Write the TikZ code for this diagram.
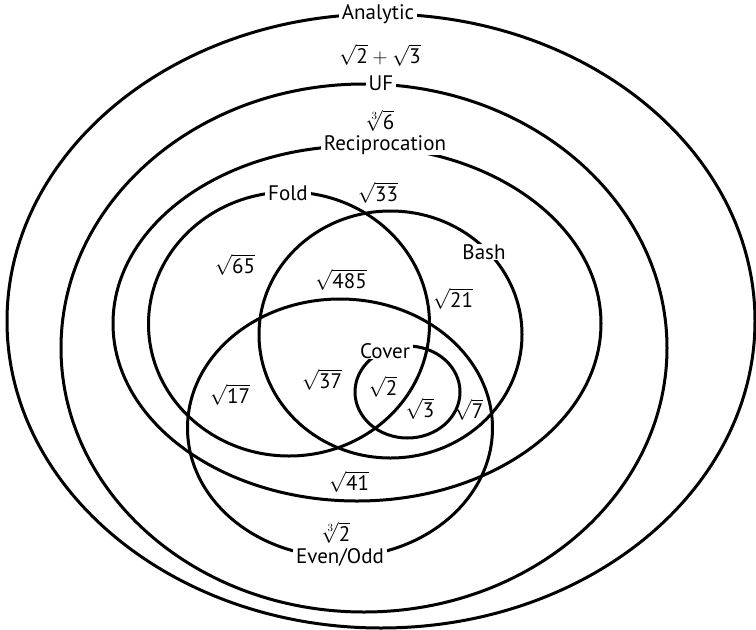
\documentclass[tikz,border=0pt]{standalone}
\usepackage{fontspec}
\setmainfont{PT Sans}
\newcommand{\rt}[1]{$\sqrt{\mbox{#1}}$}
\newcommand{\crt}[1]{$\sqrt[3]{\mbox{#1}}$}
\begin{document}
\begin{tikzpicture}[x=1pt,y=-1pt,
  setline/.style={line width=3pt},
  tag/.style={fill=white, inner xsep=3pt, inner ysep=0pt, font=\fontsize{21}{24}\selectfont},
  val/.style={inner sep=0pt, font=\fontsize{21}{24}\selectfont}]
\useasboundingbox (0,0) rectangle (756,630);

% the seven classes, outermost first
\draw[setline] (381,321) ellipse [x radius=374, y radius=307];     % Analytic
\draw[setline] (364,348) ellipse [x radius=303, y radius=264];     % UF
\draw[setline] (357,323.5) ellipse [x radius=244, y radius=177.5]; % Reciprocation
\draw[setline] (289,324) ellipse [x radius=140.5, y radius=132];   % Fold
\draw[setline] (390.5,334.5) ellipse [x radius=131.5, y radius=123.5]; % Bash
\draw[setline] (340,428) ellipse [x radius=152.5, y radius=129];   % Even/Odd
\draw[setline] (407.5,392) ellipse [x radius=52.5, y radius=46];   % Cover

% class names, set on their outlines
\node[tag] (analytic) at (378,14) {Analytic};
\node[tag] (uf) at (381,83) {UF};
\node[tag] (recip) at (385,145) {Reciprocation};
\node[tag] (fold) at (288,193) {Fold};
\node[tag] (bash) at (484,252) {Bash};
\node[tag] (cover) at (385,351) {Cover};
\node[tag] (evenodd) at (340,557) {Even/Odd};

% example numbers in each region
\node[val] (v23) at (380,55) {$\sqrt{\mbox{2}}+\sqrt{\mbox{3}}$};
\node[val] (c6) at (380,121) {\crt{6}};
\node[val] (v33) at (378,193) {\rt{33}};
\node[val] (v65) at (235,265) {\rt{65}};
\node[val] (v485) at (341,280) {\rt{485}};
\node[val] (v21) at (453,299) {\rt{21}};
\node[val] (v37) at (322,380) {\rt{37}};
\node[val] (v2) at (383,387) {\rt{2}};
\node[val] (v3) at (420,409) {\rt{3}};
\node[val] (v7) at (469,410) {\rt{7}};
\node[val] (v17) at (230,395) {\rt{17}};
\node[val] (v41) at (349,482) {\rt{41}};
\node[val] (c2) at (336,533) {\crt{2}};
\end{tikzpicture}
\end{document}
